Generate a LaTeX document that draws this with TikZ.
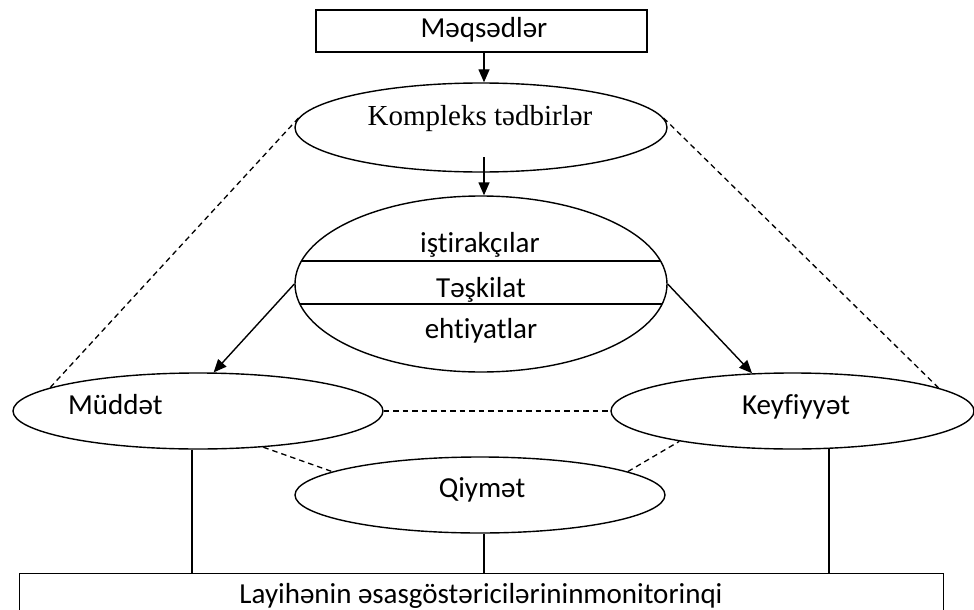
\documentclass[tikz,border=0pt]{standalone}
\usepackage{fontspec}
\setmainfont{Carlito}[Ligatures=NoCommon]
\newfontfamily\timesf{Liberation Serif}
\usetikzlibrary{shapes.geometric,arrows.meta}
\begin{document}
\begin{tikzpicture}[x=1pt,y=-1pt,
 lw/.style={line width=1.4pt},
 ell/.style={draw,ellipse,line width=1.4pt,inner sep=0pt},
 arr/.style={line width=1.4pt,-{Triangle[length=13pt,width=11pt]}},
 dsh/.style={line width=1.3pt,dash pattern=on 5.5pt off 4pt},
 txt/.style={inner sep=0pt,font=\fontsize{29}{34}\selectfont},
 serift/.style={inner sep=0pt,font=\timesf\fontsize{29}{34}\selectfont},
]
\useasboundingbox (0,0) rectangle (974,610);
% boxes and ellipses
\node[draw,lw,minimum width=331pt,minimum height=42pt,inner sep=0pt] (goal) at (481.5,31) {};
\node[txt,anchor=base] (goalt) at (484,37.5) {Məqsədlər};
\node[ell,minimum width=372pt,minimum height=89pt] (komp) at (481,127.5) {};
\node[serift,anchor=base] (kompt) at (480,125) {Kompleks tədbirlər};
\node[ell,minimum width=372pt,minimum height=176pt] (res) at (481,284) {};
\coordinate (r1l) at (301.5,261); \coordinate (r1r) at (660.5,261);
\coordinate (r2l) at (300,304); \coordinate (r2r) at (662,304);
\draw[lw] (r1l) -- (r1r);
\draw[lw] (r2l) -- (r2r);
\node[txt,anchor=base] (resa) at (480,252) {iştirakçılar};
\node[txt,anchor=base] (resb) at (481,297) {Təşkilat};
\node[txt,anchor=base] (resc) at (481,338) {ehtiyatlar};
\node[ell,minimum width=370pt,minimum height=76pt] (mud) at (198,411) {};
\node[txt,anchor=base west] (mudt) at (68,414) {Müddət};
\node[ell,minimum width=363pt,minimum height=76pt] (key) at (792.5,411) {};
\node[txt,anchor=base] (keyt) at (796,414) {Keyfiyyət};
\node[ell,minimum width=370pt,minimum height=76pt] (qiy) at (480,495) {};
\node[txt,anchor=base] (qiyt) at (482,497) {Qiymət};
\node[draw,lw,minimum width=924pt,minimum height=80pt,anchor=north west,inner sep=0pt] (bot) at (19,573) {};
\node[txt,anchor=base] (bott) at (481,603) {Layihənin əsasgöstəricilərininmonitorinqi};
% arrows
\draw[arr] ([xshift=2.5pt]goal.south) -- ([xshift=2.5pt]goal.south |- komp.north);
\coordinate (kin) at (484,157);
\draw[arr] (kin) -- (kin |- res.north);
\draw[arr] (res.west) -- (mud.68);
\draw[arr] (res.east) -- (key.137);
% dashed
\draw[dsh] (komp.177) -- (mud.171);
\draw[dsh] (komp.3) -- (key.9);
\draw[dsh] (mud.east) -- (key.west);
\draw[dsh] (mud.-29) -- (qiy.171);
\draw[dsh] (qiy.9) -- (key.195);
% solid verticals
\draw[lw] ([xshift=-6pt]mud.south) -- ([xshift=-6pt]mud.south |- bot.north);
\draw[lw] ([xshift=4pt]qiy.south) -- ([xshift=4pt]qiy.south |- bot.north);
\draw[lw] (key.-46.4) -- (key.-46.4 |- bot.north);
\end{tikzpicture}
\end{document}
